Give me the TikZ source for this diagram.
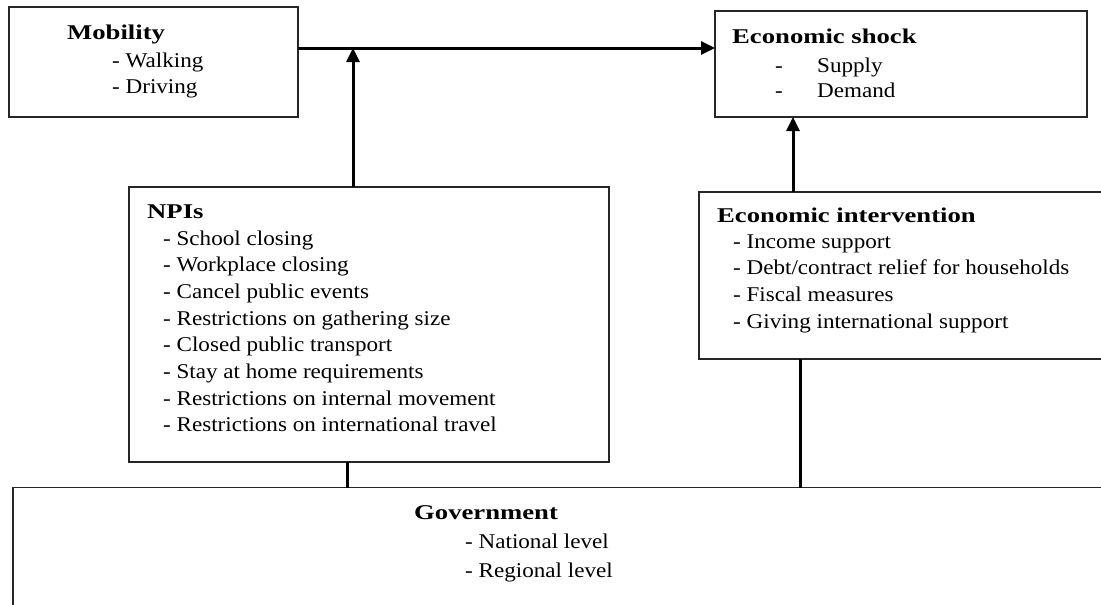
\documentclass[tikz,border=0pt]{standalone}
\usepackage{fontspec}
\setmainfont{Liberation Serif}[UprightFeatures={FakeStretch=1.1},BoldFeatures={FakeStretch=1.27}]
\usetikzlibrary{arrows.meta}
\begin{document}
\begin{tikzpicture}[x=1pt,y=-1pt,
  box/.style={draw=black!85,line width=1.2pt,inner sep=0pt,outer sep=0pt,fill=white},
  txt/.style={anchor=base west,inner sep=0pt,font=\fontsize{21}{26}\selectfont},
  hd/.style={txt,font=\fontsize{21}{26}\selectfont\bfseries},
  conn/.style={line width=3pt,black},
  arr/.style={conn,-{Triangle[length=14pt,width=13pt]}}]
\useasboundingbox (0,0) rectangle (1101,605);
\clip (0,0) rectangle (1101,605);
% boxes
\node[box,minimum width=289pt,minimum height=110pt] (mob) at (153.5,62) {};
\node[box,minimum width=372pt,minimum height=106pt] (es) at (901,64) {};
\node[box,minimum width=480pt,minimum height=275pt] (npi) at (369,324.5) {};
\node[box,minimum width=420pt,minimum height=167pt] (ei) at (909,275.5) {};
\node[box,minimum width=1110pt,minimum height=140pt] (gov) at (568,557.7) {};
% texts
\node[hd] (mobh) at (67,39) {Mobility};
\node[txt] (mob1) at (112,67) {- Walking};
\node[txt] (mob2) at (112,93) {- Driving};
\node[hd] (esh) at (732,43) {Economic shock};
\node[txt] (esd1) at (775,72) {-};
\node[txt] (es1) at (817,72) {Supply};
\node[txt] (esd2) at (775,97) {-};
\node[txt] (es2) at (817,97) {Demand};
\node[hd] (npih) at (147,218) {NPIs};
\foreach \t [count=\i] in {School closing,Workplace closing,Cancel public events,Restrictions on gathering size,Closed public transport,Stay at home requirements,Restrictions on internal movement,Restrictions on international travel}
  \node[txt] (npi\i) at (163,{245+26.7*(\i-1)}) {- \t};
\node[hd] (eih) at (717,222) {Economic intervention};
\foreach \t [count=\i] in {Income support,Debt/contract relief for households,Fiscal measures,Giving international support}
  \node[txt] (ei\i) at (733,{248+26.7*(\i-1)}) {- \t};
\node[hd] (govh) at (414,519) {Government};
\node[txt] (gov1) at (465,548) {- National level};
\node[txt] (gov2) at (465,577) {- Regional level};
% connectors
\coordinate (j) at (353,48);
\coordinate (k) at (793,0);
\coordinate (g1) at (347,0);
\coordinate (g2) at (800,0);
\draw[arr] (j -| mob.east) -- (j -| es.west);
\draw[arr] (j |- npi.north) -- (j);
\draw[arr] (k |- ei.north) -- (k |- es.south);
\draw[conn] (g1 |- npi.south) -- (g1 |- gov.north);
\draw[conn] (g2 |- ei.south) -- (g2 |- gov.north);
\end{tikzpicture}
\end{document}
